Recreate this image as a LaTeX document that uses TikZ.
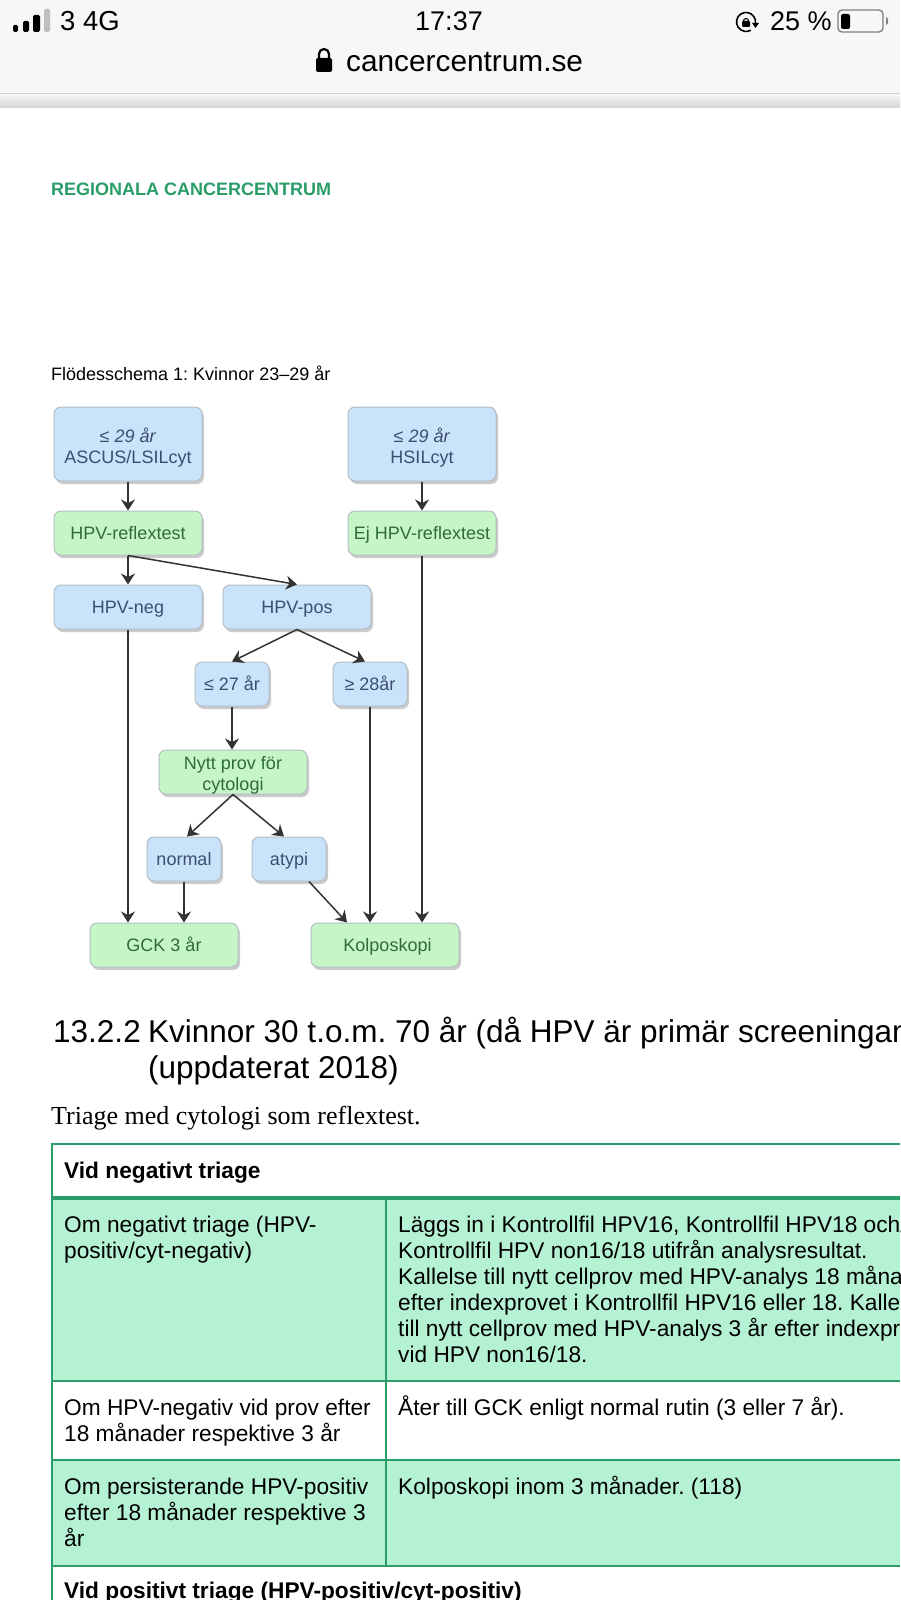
\documentclass[tikz,border=0pt]{standalone}
\usepackage{fontspec}
\setmainfont{Liberation Sans}
\newfontfamily\serifface{Liberation Serif}
\usetikzlibrary{arrows.meta,shadows,calc}
\definecolor{flowblue}{HTML}{C9E3FB}
\definecolor{flowgreen}{HTML}{C6F6C6}
\definecolor{bluetext}{HTML}{3B4E6B}
\definecolor{greentext}{HTML}{2F6B3E}
\definecolor{rcc}{HTML}{2A9D68}
\definecolor{tablefill}{HTML}{B5F1D3}
\definecolor{barbg}{HTML}{F7F7F7}
\definecolor{edgegray}{HTML}{B4BEC4}
\newcommand\fl[2][-1.5pt]{\raisebox{#1}[14pt][4pt]{#2}}
\tikzset{
  x=1pt,y=-1pt,
  flowbox/.style={rounded corners=7pt,draw=edgegray,line width=1pt,align=center,inner sep=0pt,font=\fontsize{18}{21}\selectfont,
    drop shadow={shadow xshift=2pt,shadow yshift=-3pt,fill=black!45,opacity=.45,rounded corners=7pt}},
  bluebox/.style={flowbox,fill=flowblue,text=bluetext},
  greenbox/.style={flowbox,fill=flowgreen,text=greentext},
  wide/.style={minimum width=148pt},
  narrow/.style={minimum width=74pt},
  tall/.style={minimum height=74pt},
  low/.style={minimum height=44pt},
  flowarrow/.style={draw=black!80,line width=1.5pt,-{Stealth[length=11pt,width=14pt]}},
  plain/.style={anchor=base west,inner sep=0pt,text=black},
  cell/.style={plain,font=\fontsize{22.7}{25}\selectfont},
  boldcell/.style={plain,font=\fontsize{22.7}{25}\selectfont\bfseries},
  headline/.style={plain,font=\fontsize{31.5}{36}\selectfont},
  tablerule/.style={draw=rcc,line width=2pt},
  status/.style={anchor=base,inner sep=0pt,text=black,font=\fontsize{27}{30}\selectfont},
}
\frenchspacing
\begin{document}
\begin{tikzpicture}
\useasboundingbox (0,0) rectangle (900,1600);
\fill[white] (0,0) rectangle (900,1600);
% browser bar
\fill[barbg] (0,0) rectangle (900,93);
\fill[black!18] (0,93) rectangle (900,95);
\shade[top color=black!4,bottom color=black!17] (0,95) rectangle (900,108);
\fill[black,rounded corners=1.5pt] (13,32) rectangle (18,25);
\fill[black,rounded corners=1.5pt] (23,32) rectangle (29,21);
\fill[black,rounded corners=1.5pt] (33,32) rectangle (40,15);
\fill[black!25,rounded corners=1.5pt] (44,32) rectangle (50,9);
\node[status,anchor=base west,font=\fontsize{27.5}{30}\selectfont] (net) at (60,31) {3 4G};
\node[status] (clock) at (449,31) {17:37};
\node[status,anchor=base west] (batt) at (770,31) {25 \%};
\draw[black,line width=1.6pt] (755.4,23.6) arc (-10:300:9.5pt);
\fill[black] (752,23) -- (759,23) -- (755.5,28) -- cycle;
\fill[black,rounded corners=1pt] (742,21) rectangle (750,27);
\draw[black,line width=1.1pt] (743.5,21) arc (180:0:2.5pt);
\draw[black!50,line width=1.4pt,rounded corners=4pt] (838,10) rectangle (883,32);
\fill[black,rounded corners=2pt] (841,14) rectangle (850,29);
\fill[black!50] (886,17) -- (888,19) -- (888,23) -- (886,25) -- cycle;
\fill[black,rounded corners=2pt] (316,58) rectangle (332,72);
\draw[black,line width=2.2pt] (319,58) -- (319,54) arc (180:0:5pt) -- (329,58);
\node[status,anchor=base west,font=\fontsize{29.8}{32}\selectfont] (url) at (346,72) {cancercentrum.se};
% headings
\node[plain,text=rcc,font=\fontsize{18}{20}\selectfont\bfseries] (rcctitle) at (51,195) {REGIONALA CANCERCENTRUM};
\node[plain,font=\fontsize{18}{20}\selectfont] (caption) at (51,380) {Flödesschema 1: Kvinnor 23–29 år};
% flow
\node[bluebox,wide,tall] (a1) at (128,444) {\fl[-3.5pt]{\textit{≤ 29 år}}\\\fl[-3.5pt]{ASCUS/LSILcyt}};
\node[bluebox,wide,tall] (a2) at (422,444) {\fl[-3.5pt]{\textit{≤ 29 år}}\\\fl[-3.5pt]{HSILcyt}};
\node[greenbox,wide,low] (r1) at (128,533) {\fl{HPV-reflextest}};
\node[greenbox,wide,low] (r2) at (422,533) {\fl{Ej HPV-reflextest}};
\node[bluebox,wide,low] (neg) at (128,607) {\fl{HPV-neg}};
\node[bluebox,wide,low] (pos) at (297,607) {\fl{HPV-pos}};
\node[bluebox,narrow,low] (y27) at (232,684) {\fl{≤ 27 år}};
\node[bluebox,narrow,low] (o28) at (370,684) {\fl{≥ 28år}};
\node[greenbox,wide,low] (nytt) at (233,772) {\fl[-3pt]{Nytt prov för}\\\fl[-3pt]{cytologi}};
\node[bluebox,narrow,low] (norm) at (184,859) {\fl{normal}};
\node[bluebox,narrow,low] (aty) at (289,859) {\fl{atypi}};
\node[greenbox,wide,low] (gck) at (164,945) {\fl{GCK 3 år}};
\node[greenbox,wide,low] (kol) at (385,945) {\fl{\hspace{5pt}Kolposkopi}};
\draw[flowarrow] (a1.south -| r1.north) -- (r1.north);
\draw[flowarrow] (a2.south -| r2.north) -- (r2.north);
\draw[flowarrow] (r1.south) -- (neg.north);
\draw[flowarrow] (r1.south) -- (pos.north);
\draw[flowarrow] (pos.south) -- (y27.north);
\draw[flowarrow] (pos.south) -- ([xshift=-5pt]o28.north);
\draw[flowarrow] (y27.south) -- (y27.south |- nytt.north);
\draw[flowarrow] (nytt.south) -- ([xshift=3pt]norm.north);
\draw[flowarrow] (nytt.south) -- ([xshift=-5pt]aty.north);
\draw[flowarrow] (norm.south) -- (norm.south |- gck.north);
\draw[flowarrow] ([xshift=20pt]aty.south) -- ([xshift=-38pt]kol.north);
\draw[flowarrow] (neg.south) -- (neg.south |- gck.north);
\draw[flowarrow] (o28.south) -- (o28.south |- kol.north);
\draw[flowarrow] (r2.south) -- (r2.south |- kol.north);
% section
\node[headline] (h1) at (53,1042) {13.2.2};
\node[headline] (h2) at (148,1042) {Kvinnor 30 t.o.m. 70 år (då HPV är primär screeningan};
\node[headline] (h3) at (148,1078) {(uppdaterat 2018)};
\node[plain,font=\fontsize{26}{28}\selectfont\serifface] (tr) at (51,1124) {Triage med cytologi som reflextest.};
% table
\fill[tablefill] (52,1198) rectangle (900,1381);
\fill[tablefill] (52,1460) rectangle (900,1566);
\draw[tablerule] (900,1144) -- (52,1144) -- (52,1600);
\draw[draw=rcc,line width=4pt] (52,1198) -- (900,1198);
\draw[tablerule] (52,1381) -- (900,1381);
\draw[tablerule] (52,1460) -- (900,1460);
\draw[tablerule] (52,1566) -- (900,1566);
\draw[tablerule] (386,1198) -- (386,1566);
\node[boldcell] (t0) at (64,1178) {Vid negativt triage};
\node[cell] (t1) at (64,1232) {Om negativt triage (HPV-};
\node[cell] (t2) at (64,1258) {positiv/cyt-negativ)};
\node[cell] (u1) at (398,1232) {Läggs in i Kontrollfil HPV16, Kontrollfil HPV18 och/};
\node[cell] (u2) at (398,1258) {Kontrollfil HPV non16/18 utifrån analysresultat.};
\node[cell] (u3) at (398,1284) {Kallelse till nytt cellprov med HPV-analys 18 måna};
\node[cell] (u4) at (398,1310) {efter indexprovet i Kontrollfil HPV16 eller 18. Kalle};
\node[cell] (u5) at (398,1336) {till nytt cellprov med HPV-analys 3 år efter indexpr};
\node[cell] (u6) at (398,1362) {vid HPV non16/18.};
\node[cell] (v1) at (64,1415) {Om HPV-negativ vid prov efter};
\node[cell] (v2) at (64,1441) {18 månader respektive 3 år};
\node[cell] (w1) at (398,1415) {Åter till GCK enligt normal rutin (3 eller 7 år).};
\node[cell] (x1) at (64,1494) {Om persisterande HPV-positiv};
\node[cell] (x2) at (64,1520) {efter 18 månader respektive 3};
\node[cell] (x3) at (64,1546) {år};
\node[cell] (y1) at (398,1494) {Kolposkopi inom 3 månader. (118)};
\node[boldcell] (z0) at (64,1598) {Vid positivt triage (HPV-positiv/cyt-positiv)};
\end{tikzpicture}
\end{document}
